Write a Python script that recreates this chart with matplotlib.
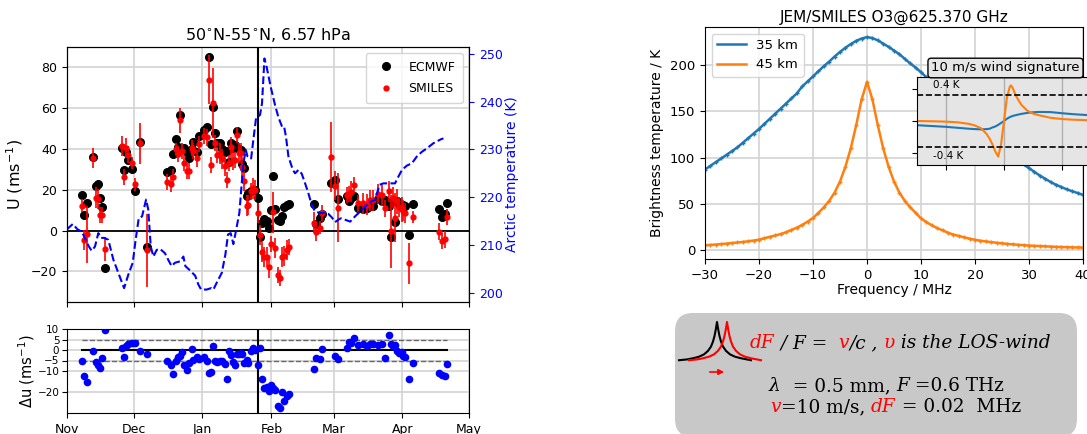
import numpy as np
import matplotlib
matplotlib.use("Agg")
import matplotlib.pyplot as plt
import matplotlib.dates as mdates
from matplotlib.patches import FancyBboxPatch
from datetime import datetime

# ---------------- wind comparison, 50N-55N, 6.57 hPa ----------------
# days counted from 1 Nov 2009
obs_day = [6.9, 7.8, 8.9, 11.9, 12.9, 13.8, 14.9, 15.9, 17.0, 24.6,
           25.8, 26.6, 27.6, 29.1, 30.6, 32.9, 35.9, 44.9, 46.8, 47.9,
           48.9, 49.8, 50.9, 51.7, 52.9, 53.9, 55.0, 56.2, 56.9, 58.4,
           59.6, 61.7, 62.9, 64.0, 64.9, 65.9, 66.8, 67.7, 68.9, 70.0,
           71.2, 71.9, 72.8, 73.7, 74.9, 75.7, 76.7, 77.5, 78.4, 79.0,
           79.9, 80.9, 81.7, 82.7, 83.6, 84.7, 85.9, 86.9, 88.0, 88.9,
           89.9, 90.8, 91.9, 92.9, 93.8, 94.9, 95.9, 97.0, 97.9, 98.9,
           99.8, 111.0, 112.0, 114.0, 115.0, 118.9, 120.7, 121.9, 126.0, 127.0,
           127.9, 129.3, 131.2, 133.2, 135.0, 136.5, 138.0, 140.2, 141.7, 143.2,
           145.0, 145.8, 146.7, 147.9, 148.8, 149.7, 150.8, 151.5, 152.3, 154.2,
           156.0, 167.7, 168.8, 170.0, 171.0]
ecmwf_u = [17.6, 7.6, 13.3, 36.0, 22.0, 22.6, 16.0, 11.7, -18.4, 40.5,
           29.6, 38.5, 34.5, 30.2, 19.3, 43.4, -7.8, 28.8, 29.8, 37.7,
           45.0, 41.0, 56.7, 40.0, 40.3, 38.5, 35.5, 40.0, 43.5, 38.5,
           46.6, 49.5, 51.0, 85.0, 42.6, 60.5, 47.8, 42.8, 43.0, 40.0,
           38.7, 38.8, 33.7, 43.0, 40.6, 41.8, 48.7, 40.0, 39.3, 32.8,
           30.5, 17.0, 18.5, 19.5, 19.8, 20.0, 15.8, -3.0, 3.5, 5.5,
           4.5, 1.5, 10.0, 27.0, 10.5, 5.0, 4.5, 7.0, 11.8, 12.5,
           12.8, 12.8, 3.0, 6.0, 8.0, 23.4, 24.7, 15.4, 16.8, 14.5,
           16.0, 16.8, 11.0, 10.5, 11.0, 12.0, 12.0, 15.5, 14.5, 14.8,
           12.0, -3.3, 14.5, 4.0, 14.6, 13.0, 11.5, 12.5, 12.0, -2.0,
           12.8, 10.5, 6.8, 8.0, 13.7]
smiles_u = [12.3, -4.6, -1.7, 35.7, 16.2, 15.6, 7.6, 7.8, -8.9, 41.4,
            26.2, 40.5, 37.3, 33.3, 22.6, 42.8, -9.7, 23.8, 22.8, 26.1,
            40.0, 37.6, 54.0, 39.0, 33.0, 29.1, 29.3, 40.5, 38.9, 35.4,
            42.4, 46.4, 45.7, 74.0, 32.1, 62.5, 42.8, 37.0, 37.7, 35.0,
            31.8, 24.9, 33.0, 40.8, 34.8, 34.5, 46.8, 38.0, 37.9, 31.0,
            24.3, 12.3, 12.5, 19.2, 20.7, 20.0, 8.5, -2.1, -10.4, -12.8,
            -13.0, -18.0, -6.7, 9.0, -8.5, -21.6, -23.3, -12.8, -12.4, -9.4,
            -8.2, 3.9, -0.9, 1.5, 8.5, 36.0, 22.0, 11.2, 17.6, 18.1,
            19.1, 22.3, 13.3, 13.3, 12.7, 14.8, 14.8, 18.0, 17.3, 10.9,
            19.2, -0.4, 16.2, 6.3, 14.3, 11.6, 10.4, 9.8, 8.6, -16.0,
            6.6, -0.5, -5.2, -4.3, 6.8]
smiles_err = [3, 5, 14, 5, 5, 5, 4, 4, 6, 5,
              4, 5, 4, 3, 3, 10, 18, 4, 4, 4,
              3, 4, 6, 4, 4, 4, 4, 4, 4, 4,
              4, 4, 4, 12, 4, 17, 4, 4, 5, 5,
              5, 4, 4, 5, 5, 4, 4, 5, 5, 5,
              5, 5, 5, 4, 5, 5, 5, 5, 5, 5,
              5, 5, 4, 10, 5, 4, 4, 5, 5, 5,
              4, 5, 4, 3, 4, 17, 7, 17, 4, 4,
              5, 4, 4, 5, 5, 5, 5, 5, 5, 4,
              5, 18, 5, 12, 6, 5, 6, 5, 5, 10,
              3, 4, 4, 4, 4]

temp_day = [0, 2.6, 4.7, 6.6, 8.1, 9.6, 11.1, 12.6, 14.1, 15.3,
            16.8, 18.6, 20.9, 23.1, 25.7, 27.6, 29.6, 30.9, 32.3, 33.8,
            35.6, 36.6, 37.7, 38.9, 40.4, 41.9, 44.1, 45.6, 47.1, 48.6,
            50.9, 52.4, 53.3, 55.4, 57.7, 59.2, 60.4, 62.9, 64.9, 65.9,
            67.7, 69.7, 71.3, 72.5, 73.7, 74.9, 76.0, 77.6, 79.4, 80.5,
            81.2, 82.1, 82.9, 83.9, 85.1, 86.9, 87.8, 88.9, 89.9, 91.7,
            93.7, 95.2, 96.7, 97.7, 98.6, 99.7, 101.7, 102.7, 104.2, 105.7,
            107.2, 108.7, 110.2, 111.7, 114.0, 116.2, 117.7, 119.2, 120.7, 122.2,
            123.3, 125.2, 127.5, 129.7, 132.0, 134.2, 136.8, 138.7, 140.7, 142.5,
            144.7, 147.7, 149.2, 150.8, 153.0, 155.3, 157.5, 159.8, 162.0, 165.0,
            168.3, 169.5]
arctic_temp = [213.3, 214.4, 213.3, 212.8, 211.5, 209.9, 208.8, 209.7, 212.5, 211.5,
               211.5, 211.1, 206.9, 204.2, 201.0, 203.8, 206.3, 211.1, 215.6, 216.0,
               219.5, 217.4, 209.7, 207.6, 209.0, 209.2, 208.3, 206.9, 205.6, 206.3,
               206.6, 207.6, 205.6, 204.7, 203.6, 201.7, 200.7, 200.7, 201.0, 200.7,
               202.4, 204.2, 208.0, 212.2, 212.5, 210.2, 212.8, 216.7, 227.1, 229.9,
               228.6, 228.5, 228.1, 232.0, 236.5, 237.2, 239.6, 249.0, 247.2, 243.1,
               239.2, 236.7, 234.9, 234.9, 232.6, 228.5, 225.7, 225.0, 225.7, 224.9,
               222.9, 220.8, 218.4, 217.0, 216.7, 216.7, 216.5, 215.8, 214.8, 215.3,
               215.6, 215.3, 214.9, 216.0, 217.0, 218.0, 219.1, 219.4, 222.6, 222.9,
               222.9, 222.9, 224.3, 225.7, 226.6, 227.1, 228.5, 229.5, 230.2, 231.3,
               232.1, 232.3]

warming_day = 85.8
month_start = datetime(2009, 11, 1)

# ---------------- O3 line at 625.370 GHz ----------------
freq_mhz = list(range(-30, 41))
tb_35km = [87, 91, 95, 99, 103, 107, 111, 116, 121, 126,
           131, 136.5, 142, 147.5, 153, 158.5, 164, 169.5, 177, 182.5,
           188, 193.5, 199, 204, 209.5, 214.5, 219, 223, 226.5, 229,
           230.6,
           229.5, 227, 223.5, 220, 216, 212, 207, 202, 197.5, 192.5,
           187, 181.5, 176, 171, 165.5, 160, 154, 148.5, 143, 137,
           132, 127, 121.5, 116.5, 111.5, 106.5, 101.5, 97, 92.5, 88.5,
           84.5, 80.5, 77, 73.5, 70.5, 68, 65.5, 63.5, 61.5, 59.5]
tb_45km = [4.8, 5.2, 5.7, 6.2, 6.7, 7.3, 7.9, 8.5, 9.2, 10.0,
           11.0, 12.5, 14.0, 15.5, 17.0, 19.0, 21.5, 24.0, 27.0, 30.5,
           34.5, 40.0, 46.0, 53.0, 62.0, 74.0, 90.0, 110.0, 135.0, 163.0,
           182.0,
           163, 135, 110, 90, 74, 62, 53, 46, 40, 34,
           30, 26.5, 23.5, 21, 18.5, 16.5, 15, 13.5, 12, 10.8,
           9.8, 9, 8.3, 7.6, 7, 6.4, 5.9, 5.4, 5, 4.6,
           4.3, 4, 3.7, 3.5, 3.2, 3, 2.8, 2.6, 2.5, 2.4]

# difference spectra for a 10 m/s line-of-sight wind
sig_freq = [-15, -12, -10, -8, -6, -5, -4, -3, -2.5, -2, -1.5, -1, -0.5, 0,
            0.5, 1, 1.2, 1.5, 2, 2.5, 3, 4, 5, 6, 8, 10, 12, 15, 20]
sig_45km = [0.0, -0.005, -0.01, -0.02, -0.045, -0.07, -0.11, -0.2, -0.27, -0.36,
            -0.47, -0.55, -0.36, 0.0, 0.36, 0.53, 0.55, 0.51, 0.40, 0.32,
            0.25, 0.16, 0.115, 0.09, 0.05, 0.03, 0.02, 0.01, 0.005]
sig_35km = [-0.065, -0.08, -0.09, -0.105, -0.12, -0.125, -0.13, -0.125, -0.12, -0.1,
            -0.085, -0.06, -0.03, 0.0, 0.035, 0.06, 0.068, 0.078, 0.09, 0.1,
            0.11, 0.125, 0.135, 0.14, 0.138, 0.12, 0.105, 0.088, 0.07]

# small sketch of a Doppler-shifted line
sketch_dx = [-38, -30, -24, -18, -13, -9, -6, -4, -2.5, -1.2, 0,
             1.2, 2.5, 4, 6, 9, 13, 18, 24, 30, 34]
sketch_h = [0.02, 0.04, 0.07, 0.11, 0.17, 0.26, 0.37, 0.5, 0.64, 0.81, 1.0,
            0.81, 0.64, 0.5, 0.37, 0.26, 0.17, 0.11, 0.07, 0.04, 0.02]

W, H = 1087, 434
fig = plt.figure(figsize=(W / 100, H / 100), dpi=100)


def box(x0, y0, x1, y1):
    # pixel box (top-left origin) -> figure fraction rect
    return [x0 / W, 1 - y1 / H, (x1 - x0) / W, (y1 - y0) / H]


t0 = mdates.date2num(month_start)
t_obs = t0 + np.array(obs_day)
t_temp = t0 + np.array(temp_day)
t_warm = t0 + warming_day
t_lim = (t0, mdates.date2num(datetime(2010, 5, 1)))

# ---- top left: zonal wind
ax = fig.add_axes(box(67, 47, 469, 302))
ax.grid(True, color="#d3d3d3", lw=1.2)
ax.set_axisbelow(True)
ax.axhline(0, color="black", lw=1.3)
ax.axvline(t_warm, color="black", lw=1.5)
ax.plot(t_obs, ecmwf_u, "o", color="black", ms=5.5, label="ECMWF")
ax.errorbar(t_obs, smiles_u, yerr=smiles_err, fmt="none", ecolor="red", elinewidth=1.2)
ax.plot(t_obs, smiles_u, "o", color="red", ms=3.5, label="SMILES")
ax.set_xlim(*t_lim)
ax.set_ylim(-35, 90)
ax.set_yticks([-20, 0, 20, 40, 60, 80])
ax.xaxis.set_major_locator(mdates.MonthLocator())
ax.xaxis.set_major_formatter(plt.NullFormatter())
ax.tick_params(labelsize=9)
ax.set_ylabel("U (ms$^{-1}$)", fontsize=11.5)
ax.set_title("50$^{\\circ}$N-55$^{\\circ}$N, 6.57 hPa", fontsize=11.5, pad=5)
ax.legend(loc="upper right", fontsize=9, numpoints=1, borderpad=0.6, labelspacing=0.7)

axt = ax.twinx()
axt.plot(t_temp, arctic_temp, "--", color="blue", lw=1.5)
axt.set_ylim(198.1, 251.4)
axt.set_yticks([200, 210, 220, 230, 240, 250])
axt.tick_params(axis="y", colors="blue", labelsize=9)
axt.set_ylabel("Arctic temperature (K)", color="blue", fontsize=10, labelpad=2)

# ---- bottom left: wind difference
axd = fig.add_axes(box(67, 329, 469, 413))
du = np.array(smiles_u) - np.array(ecmwf_u)
axd.grid(True, color="#d3d3d3", lw=1.2)
axd.set_axisbelow(True)
span = [t_obs[0], t_obs[-1]]
axd.plot(span, [0, 0], color="black", lw=1.5)
axd.plot(span, [5, 5], "--", color="dimgray", lw=1)
axd.plot(span, [-5, -5], "--", color="dimgray", lw=1)
axd.axvline(t_warm, color="black", lw=1.5)
axd.plot(t_obs, du, "o", color="blue", ms=4.5)
axd.set_xlim(*t_lim)
axd.set_ylim(-30, 10)
axd.set_yticks([-20, -10, -5, 0, 5, 10])
axd.xaxis.set_major_locator(mdates.MonthLocator())
axd.xaxis.set_major_formatter(mdates.DateFormatter("%b"))
axd.tick_params(axis="y", labelsize=7.5, pad=2)
axd.tick_params(axis="x", labelsize=9)
axd.set_ylabel("$\\Delta$u (ms$^{-1}$)", fontsize=10.5, labelpad=0)

# ---- right: brightness temperature spectra
axs = fig.add_axes(box(705, 27, 1083, 259))
axs.grid(True, color="#d3d3d3", lw=1.2)
axs.set_axisbelow(True)
axs.plot(freq_mhz, tb_35km, color="#1f77b4", lw=1.8, label="35 km")
axs.plot(freq_mhz, tb_45km, color="#ff7f0e", lw=1.8, label="45 km")
axs.plot(freq_mhz, tb_35km, "+", color="#1f77b4", ms=3, mew=1)
axs.plot(freq_mhz, tb_45km, "+", color="#ff7f0e", ms=3, mew=1)
axs.set_xlim(-30, 40)
axs.set_ylim(-10, 241.5)
axs.set_yticks([0, 50, 100, 150, 200])
axs.tick_params(labelsize=9.5)
axs.set_xlabel("Frequency / MHz", fontsize=10, labelpad=1)
axs.set_ylabel("Brightness temperature / K", fontsize=10)
axs.set_title("JEM/SMILES O3@625.370 GHz", fontsize=11, pad=4)
axs.legend(loc="upper left", fontsize=9.5, handlelength=2.2)

axi = fig.add_axes(box(917, 77, 1120, 165))
axi.set_facecolor("#e5e5e5")
axi.plot(sig_freq, sig_35km, color="#1f77b4", lw=1.5)
axi.plot(sig_freq, sig_45km, color="#ff7f0e", lw=1.5)
axi.axhline(0.4, color="black", ls="--", lw=1.2)
axi.axhline(-0.4, color="black", ls="--", lw=1.2)
axi.set_xlim(-15, 20)
axi.set_ylim(-0.68, 0.68)
axi.set_xticks([-10, 0, 10])
axi.set_yticks([-0.5, 0, 0.5])
axi.xaxis.grid(True, color="#b0b0b0", lw=1)
axi.set_xticklabels([])
axi.set_yticklabels([])
axi.text(-12.3, 0.56, "0.4 K", fontsize=7.5, va="center")
axi.text(-12.3, -0.54, "-0.4 K", fontsize=7.5, va="center")
fig.text(1005.5 / W, 1 - 68 / H, "10 m/s wind signature", fontsize=9.5,
         ha="center", va="center", zorder=10,
         bbox=dict(boxstyle="round,pad=0.25", fc="#e6e6e6", ec="black", lw=1))

# ---- bottom right: Doppler note
axn = fig.add_axes(box(640, 300, 1087, 434))
axn.set_xlim(640, 1087)
axn.set_ylim(434, 300)
axn.axis("off")
axn.add_patch(FancyBboxPatch((675, 313), 402, 124,
                             boxstyle="round,pad=0,rounding_size=18",
                             fc="#c8c8c8", ec="none", clip_on=False))
dx = np.array(sketch_dx)
hh = np.array(sketch_h) * 39
axn.plot(717 + dx, 361 - hh, color="black", lw=1.5)
axn.plot(727 + dx, 361 - hh, color="red", lw=1.5)
axn.annotate("", xy=(727, 372), xytext=(707, 372),
             arrowprops=dict(arrowstyle="-|>", color="red", lw=1.2, mutation_scale=8))


def parts_line(x, y, parts, size):
    prev = None
    for s, c, st in parts:
        kw = dict(color=c, fontstyle=st, fontsize=size, family="DejaVu Serif")
        if prev is None:
            prev = axn.text(x, y, s, va="baseline", ha="left", **kw)
        else:
            prev = axn.annotate(s, xy=(1, 0), xycoords=prev, va="bottom", ha="left", **kw)


parts_line(750, 348, [("dF", "red", "italic"), (" / F =  ", "black", "italic"),
                      ("v", "red", "italic"), ("/c , ", "black", "italic"),
                      ("\u03c5", "red", "italic"), (" is the LOS-wind", "black", "italic")], 13.3)
parts_line(769, 391, [("\u03bb", "black", "italic"), ("  = 0.5 mm, ", "black", "normal"),
                      ("F", "black", "italic"), (" =0.6 THz", "black", "normal")], 13.3)
parts_line(770, 412, [("v", "red", "italic"), ("=10 m/s, ", "black", "normal"),
                      ("dF", "red", "italic"), (" = 0.02  MHz", "black", "normal")], 13.3)

fig.savefig("out.png", dpi=100)
